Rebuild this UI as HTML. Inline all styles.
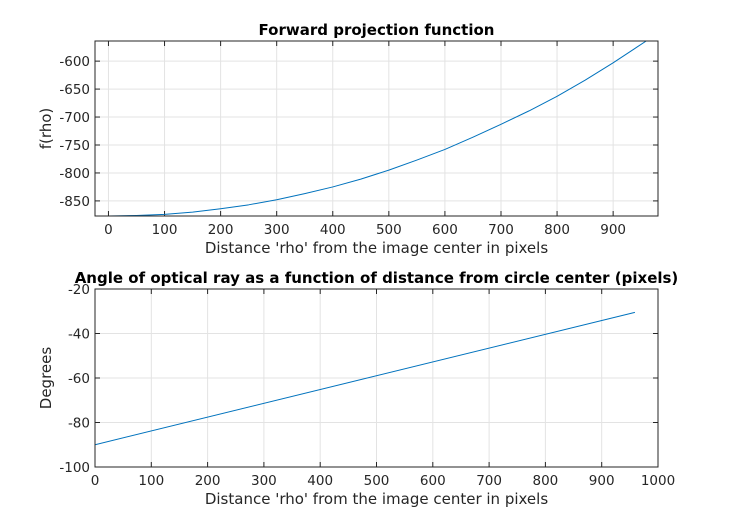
<!DOCTYPE html>
<html><head><meta charset="utf-8"><style>
body{margin:0;background:#fff;width:729px;height:526px;overflow:hidden}
svg{font-family:"DejaVu Sans","Liberation Sans",sans-serif}
</style></head><body>
<svg id="c" width="729" height="526"></svg>
<script>
const topX=[0,50,100,150,200,250,300,350,400,450,500,550,600,650,700,750,800,850,900,959];
const topY=[-877,-876,-874,-870,-864,-857,-848,-837,-825,-811,-795,-777,-758,-736,-713,-689,-663,-634,-603,-564];
const topXTicks=[0,100,200,300,400,500,600,700,800,900];
const topYTicks=[-850,-800,-750,-700,-650,-600];
const botX=[0,959];
const botY=[-90,-30.5];
const botXTicks=[0,100,200,300,400,500,600,700,800,900,1000];
const botYTicks=[-100,-80,-60,-40,-20];
const NS='http://www.w3.org/2000/svg';
const svg=document.getElementById('c');
function el(t,a,p){const e=document.createElementNS(NS,t);for(const k in a)e.setAttribute(k,a[k]);(p||svg).appendChild(e);return e;}
function panel(o){
  const g=el('g',{});
  
  
  const sx=v=>o.x0+(v-o.xmin)/(o.xmax-o.xmin)*(o.x1-o.x0);
  const sy=v=>o.y1-(v-o.ymin)/(o.ymax-o.ymin)*(o.y1-o.y0);
  el('rect',{x:o.x0,y:o.y0,width:o.x1-o.x0,height:o.y1-o.y0,fill:'#fff'},g);
  o.xt.forEach(v=>{const x=sx(v);
    el('line',{x1:x,x2:x,y1:o.y0,y2:o.y1,stroke:'#e3e3e3','stroke-width':1},g);
    el('line',{x1:x,x2:x,y1:o.y1,y2:o.y1-5,stroke:'#262626'},g);
    el('line',{x1:x,x2:x,y1:o.y0,y2:o.y0+5,stroke:'#262626'},g);
    const t=el('text',{x:x,y:o.y1+18,'text-anchor':'middle','font-size':13.5,fill:'#262626'},g);t.textContent=v;
    
    });
  o.yt.forEach(v=>{const y=sy(v);
    el('line',{x1:o.x0,x2:o.x1,y1:y,y2:y,stroke:'#e3e3e3','stroke-width':1},g);
    el('line',{x1:o.x0,x2:o.x0+5,y1:y,y2:y,stroke:'#262626'},g);
    el('line',{x1:o.x1,x2:o.x1-5,y1:y,y2:y,stroke:'#262626'},g);
    const t=el('text',{x:o.x0-5,y:y+5,'text-anchor':'end','font-size':13.5,fill:'#262626'},g);t.textContent=v;
    
    });
  const pts=o.xs.map((v,i)=>sx(v)+','+sy(o.ys[i])).join(' ');
  const cp=el('clipPath',{id:o.name+'-clip'},g);
  el('rect',{x:o.x0,y:o.y0,width:o.x1-o.x0,height:o.y1-o.y0},cp);
  const pl=el('polyline',{points:pts,fill:'none',stroke:'#0072bd','stroke-width':1,'stroke-linejoin':'round','clip-path':'url(#'+o.name+'-clip)'},g);
  
  
  el('rect',{x:o.x0,y:o.y0,width:o.x1-o.x0,height:o.y1-o.y0,fill:'none',stroke:'#262626','stroke-width':1},g);
  const ti=el('text',{x:(o.x0+o.x1)/2,y:o.y0-6,'text-anchor':'middle','font-size':15,'font-weight':'bold',fill:'#000'},g);ti.textContent=o.title;
  
  
  const xl=el('text',{x:(o.x0+o.x1)/2,y:o.y1+37,'text-anchor':'middle','font-size':15,fill:'#262626'},g);xl.textContent=o.xlabel;
  
  
  const yx=o.ylx,yy=(o.y0+o.y1)/2;
  const yl=el('text',{x:yx,y:yy,'text-anchor':'middle','font-size':15,fill:'#262626',transform:'rotate(-90 '+yx+' '+yy+')'},g);yl.textContent=o.ylabel;
  
  
}
panel({name:'forward-projection-chart',x0:95,x1:658,y0:41,y1:216,xmin:-24,xmax:980,ymin:-877,ymax:-564,
  xt:topXTicks,yt:topYTicks,xs:topX,ys:topY,title:'Forward projection function',
  xlabel:"Distance 'rho' from the image center in pixels",ylabel:'f(rho)',ylx:51});
panel({name:'angle-chart',x0:95,x1:658,y0:289,y1:467,xmin:0,xmax:1000,ymin:-100,ymax:-20,
  xt:botXTicks,yt:botYTicks,xs:botX,ys:botY,title:'Angle of optical ray as a function of distance from circle center (pixels)',
  xlabel:"Distance 'rho' from the image center in pixels",ylabel:'Degrees',ylx:51});
</script>
</body></html>
